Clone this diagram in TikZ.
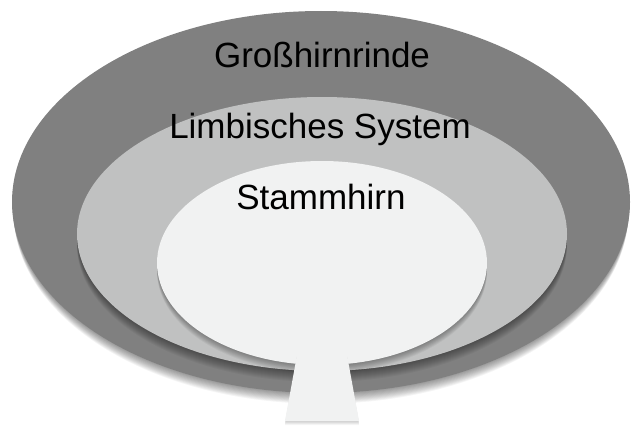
\documentclass[tikz,border=0pt]{standalone}
\usepackage{fontspec}
\setmainfont{Liberation Sans}
\definecolor{darkband}{RGB}{128,128,128}
\definecolor{midband}{RGB}{192,193,193}
\definecolor{innerband}{RGB}{241,242,242}
\tikzset{
  label text/.style={font=\fontsize{35}{42}\selectfont, text=black, anchor=base, inner sep=0pt},
  shade layer/.style={fill=black, opacity=0.04},
}
\begin{document}
\begin{tikzpicture}[x=1pt,y=-1pt]
\useasboundingbox (0,0) rectangle (631,428);
% outer ellipse with shadow
\foreach \i in {1,...,12} \fill[shade layer] (321,{202+0.9*\i}) ellipse ({309-0.15*\i} and 191);
\fill[darkband] (321,202) ellipse (309 and 191);
% middle ellipse with shadow
\foreach \i in {1,...,11} \fill[shade layer] (322,{234+1.0*\i}) ellipse (245 and 137);
\fill[midband] (322,234) ellipse (245 and 137);
% inner ellipse with shadow
\foreach \i in {1,...,9} \fill[shade layer] (322,{263+0.9*\i}) ellipse (165 and 102);
\fill[innerband] (322,263) ellipse (165 and 102);
% stem with shadow
\foreach \i in {1,...,5} \fill[shade layer] (297,{355+0.8*\i}) -- (347,{355+0.8*\i}) -- (359,{421+0.8*\i}) -- (285,{421+0.8*\i}) -- cycle;
\fill[innerband] (297,355) -- (347,355) -- (359,421) -- (285,421) -- cycle;
% labels
\node[label text] (gross) at (322,67) {Großhirnrinde};
\node[label text] (limb) at (320,138) {Limbisches System};
\node[label text] (stamm) at (321,209) {Stammhirn};
\end{tikzpicture}
\end{document}
